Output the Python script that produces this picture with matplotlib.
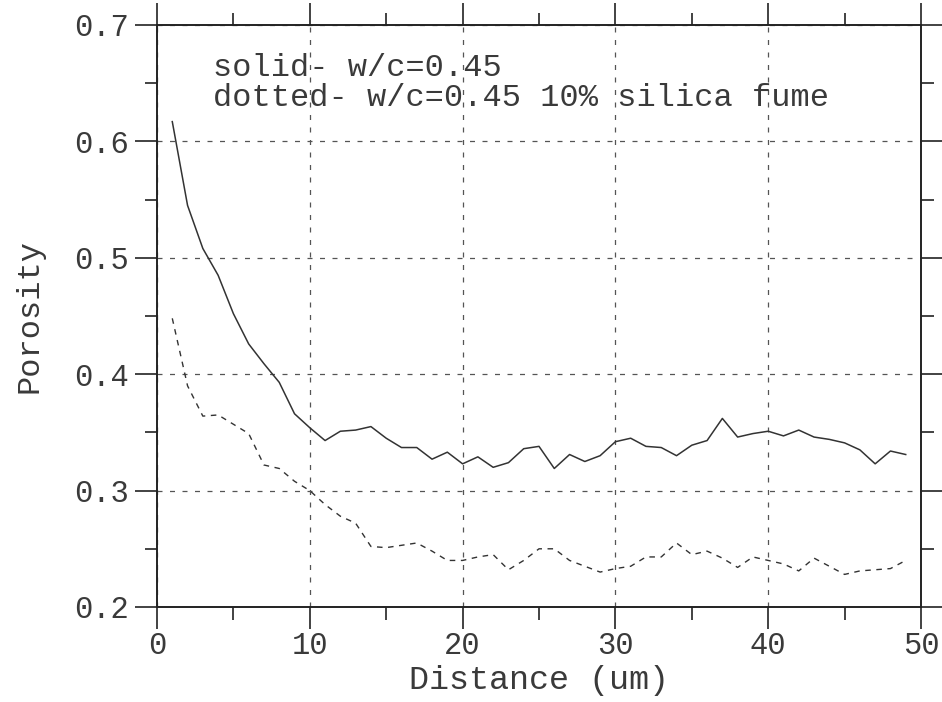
import matplotlib
matplotlib.use("Agg")
import matplotlib.pyplot as plt
from matplotlib.ticker import MultipleLocator

distance = list(range(1, 50))
solid = [0.617, 0.545, 0.508, 0.485, 0.452, 0.426, 0.409, 0.393, 0.366, 0.354,
         0.343, 0.351, 0.352, 0.355, 0.345, 0.337, 0.337, 0.327, 0.333, 0.323,
         0.329, 0.320, 0.324, 0.336, 0.338, 0.319, 0.331, 0.325, 0.330, 0.342,
         0.345, 0.338, 0.337, 0.330, 0.339, 0.343, 0.362, 0.346, 0.349, 0.351,
         0.347, 0.352, 0.346, 0.344, 0.341, 0.335, 0.323, 0.334, 0.331]
dotted = [0.448, 0.390, 0.364, 0.365, 0.357, 0.349, 0.322, 0.319, 0.308, 0.300,
          0.288, 0.278, 0.272, 0.252, 0.251, 0.253, 0.255, 0.248, 0.240, 0.240,
          0.243, 0.245, 0.232, 0.240, 0.250, 0.250, 0.240, 0.235, 0.230, 0.233,
          0.235, 0.243, 0.243, 0.255, 0.245, 0.248, 0.242, 0.234, 0.243, 0.240,
          0.237, 0.231, 0.242, 0.235, 0.228, 0.231, 0.232, 0.233, 0.240]
xticks = [0, 10, 20, 30, 40, 50]
yticks = [0.2, 0.3, 0.4, 0.5, 0.6, 0.7]
ytick_labels = ["0.2", "0.3", "0.4", "0.5", "0.6", "0.7"]
note_lines = ["solid- w/c=0.45", "dotted- w/c=0.45 10% silica fume"]

FONT = "Liberation Mono"
TXT = "#3a3a3a"
plt.rcParams["font.family"] = [FONT, "DejaVu Sans Mono"]

fig = plt.figure(figsize=(9.42, 7.02), dpi=100)
ax = fig.add_axes([157 / 942, 1 - 607 / 702, (921 - 157) / 942, (607 - 25) / 702])

ax.plot(distance, solid, color="#333333", lw=1.1)
ax.plot(distance, dotted, color="#333333", lw=1.0, linestyle=(0, (4, 4)))

ax.set_xlim(0, 50)
ax.set_ylim(0.2, 0.7)
ax.set_xticks(xticks)
ax.set_yticks(yticks)
ax.set_yticklabels(ytick_labels)
ax.xaxis.set_minor_locator(MultipleLocator(5))
ax.yaxis.set_minor_locator(MultipleLocator(0.05))
ax.tick_params(which="both", direction="out", top=True, right=True,
               labeltop=False, labelright=False, color="#222222", width=1.2)
ax.tick_params(which="major", length=16)
ax.tick_params(which="minor", length=9)
ax.tick_params(axis="x", which="major", pad=1, labelsize=22, labelcolor=TXT)
ax.tick_params(axis="y", which="major", pad=4, labelsize=22, labelcolor=TXT)

ax.grid(True, which="major", color="#555555", lw=0.9, linestyle=(0, (4, 6)))
for s in ax.spines.values():
    s.set_linewidth(1.4)
    s.set_color("#222222")

ax.set_xlabel("Distance (um)", fontsize=24, color=TXT, va="center")
ax.xaxis.set_label_coords(0.5, -(681 - 607) / 582)
ax.set_ylabel("Porosity", fontsize=23, color=TXT, va="center")
ax.yaxis.set_label_coords(-(157 - 30) / 764, 0.5)

ax.text(3.65, 0.663, note_lines[0], fontsize=23, color=TXT, va="center", ha="left")
ax.text(3.65, 0.637, note_lines[1], fontsize=23, color=TXT, va="center", ha="left")

fig.savefig("out.png", dpi=100)
